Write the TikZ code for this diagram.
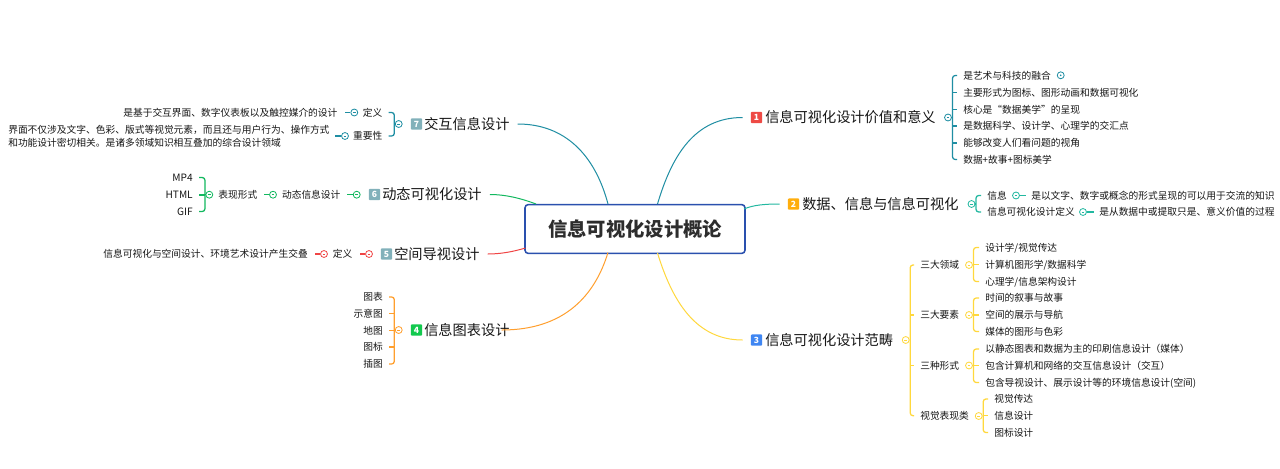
\documentclass[tikz,border=0pt]{standalone}
\usepackage{fontspec}
\setmainfont{Noto Sans CJK SC}
\definecolor{txt}{HTML}{161616}
\definecolor{cone}{HTML}{1F8EA3}
\definecolor{ctwo}{HTML}{22B8A0}
\definecolor{cthree}{HTML}{FFD83D}
\definecolor{cfour}{HTML}{FF9F2E}
\definecolor{cfive}{HTML}{F04545}
\definecolor{csix}{HTML}{12B85F}
\definecolor{cbox}{HTML}{2A50AE}
\definecolor{bone}{HTML}{EE4A45}
\definecolor{btwo}{HTML}{FFAE0D}
\definecolor{bthree}{HTML}{3F86F2}
\definecolor{bfour}{HTML}{12C94E}
\definecolor{bgrey}{HTML}{82B1BA}
\tikzset{
 leafbase/.style={inner sep=0pt,text=txt,font=\fontsize{7.3pt}{10pt}\selectfont,text height=6.4pt,text depth=0.9pt},
 lr/.style={leafbase,anchor=west},
 ll/.style={leafbase,anchor=east},
 topicbase/.style={inner sep=0pt,text=txt,font=\fontsize{10.65pt}{13pt}\selectfont,text height=9.3pt,text depth=1.3pt,anchor=west},
 badge/.style={inner sep=0pt,minimum size=8.6pt,rounded corners=0.9pt,fill=#1,text=white,font=\fontsize{6.4pt}{7pt}\selectfont\bfseries},
 mk/.style={circle,draw=#1,fill=white,line width=0.6pt,inner sep=0pt,minimum size=5.2pt,
   path picture={\draw[#1,line width=0.4pt] ([xshift=-1pt]path picture bounding box.center) -- ([xshift=1pt]path picture bounding box.center);}},
 mkdot/.style={circle,draw=#1,fill=white,line width=0.6pt,inner sep=0pt,minimum size=5.2pt,
   path picture={\fill[#1] (path picture bounding box.center) circle (0.7pt);}},
 conn/.style={line width=0.75pt,draw=#1},
 brace/.style={line width=0.95pt,draw=#1,rounded corners=2pt},
}
% bracket opening to the right of a fold marker
\newcommand{\brkR}[5]{% colour, fold, first, last, middles
  \coordinate (S#2) at ([xshift=3.4pt]#2.center);
  \draw[brace=#1] ([xshift=-4.5pt]#3.west) -| (S#2) |- ([xshift=-4.5pt]#4.west);
  \draw[brace=#1] (#2.east) -- (S#2);
  \foreach \m in {#5}{\draw[brace=#1] (S#2 |- \m.west) -- ([xshift=-4.5pt]\m.west);}
}
% bracket opening to the left
\newcommand{\brkL}[5]{%
  \coordinate (S#2) at ([xshift=-3.3pt]#2.center);
  \draw[brace=#1] ([xshift=4.5pt]#3.east) -| (S#2) |- ([xshift=4.5pt]#4.east);
  \draw[brace=#1] (#2.west) -- (S#2);
  \foreach \m in {#5}{\draw[brace=#1] (S#2 |- \m.east) -- ([xshift=4.5pt]\m.east);}
}
\begin{document}
\begin{tikzpicture}[x=0.75pt,y=-0.75pt]
\useasboundingbox (0,0) rectangle (1280,468);
\fill[white] (0,0) rectangle (1280,468);

% centre
\node[draw=cbox,line width=1.15pt,rounded corners=2.4pt,fill=white,minimum width=165pt,minimum height=36.6pt,inner sep=0pt,text=txt!90!white,font=\fontsize{14.5pt}{17pt}\selectfont\bfseries] (box) at (635,229) {信息可视化设计概论};
\coordinate (c1) at (657.5,204);
\coordinate (c2) at (744,209);
\coordinate (c3) at (657.5,253);
\coordinate (c4) at (608,252.5);
\coordinate (c5) at (525.5,248);
\coordinate (c6) at (536,204);
\coordinate (c7) at (608,204);

% topics
\node[badge=bone] (b1) at (756.5,117.5) {1};
\node[topicbase] (t1) at (765,117.5) {信息可视化设计价值和意义};
\node[badge=btwo] (b2) at (793.5,204) {2};
\node[topicbase] (t2) at (802,204) {数据、信息与信息可视化};
\node[badge=bthree] (b3) at (756.5,340) {3};
\node[topicbase] (t3) at (765,340) {信息可视化设计范畴};
\node[badge=bfour] (b4) at (416.5,330) {4};
\node[topicbase] (t4) at (424,330) {信息图表设计};
\node[badge=bgrey] (b5) at (386.5,254) {5};
\node[topicbase] (t5) at (394,254) {空间导视设计};
\node[badge=bgrey] (b6) at (374.5,194.5) {6};
\node[topicbase] (t6) at (382,194.5) {动态可视化设计};
\node[badge=bgrey] (b7) at (416.5,124) {7};
\node[topicbase] (t7) at (424,124) {交互信息设计};

% main connectors
\coordinate (e1) at ([xshift=-6pt]b1.west);
\coordinate (e2) at ([xshift=-6pt]b2.west);
\coordinate (e3) at ([xshift=-6pt]b3.west);
\coordinate (e4) at ([xshift=-6pt,yshift=0pt]t4.east);
\coordinate (e5) at ([xshift=6pt]t5.east);
\coordinate (e6) at ([xshift=6pt]t6.east);
\coordinate (e7) at ([xshift=6pt]t7.east);
\draw[conn=cone] (c1) .. controls (672,155) and (695,117.5) .. (e1);
\draw[conn=ctwo] (c2) .. controls (753,205) and (765,204) .. (e2);
\draw[conn=cthree] (c3) .. controls (672,300) and (695,340) .. (e3);
\draw[conn=cfour] (c4) .. controls (595,295) and (565,330) .. (e4);
\draw[conn=cfive] (c5) .. controls (512,252) and (500,254) .. (e5);
\draw[conn=csix] (c6) .. controls (520,198) and (505,194.5) .. (e6);
\draw[conn=cone] (c7) .. controls (595,155) and (565,124) .. (e7);

% topic 1
\node[mk=cone] (f1) at (948,117.5) {};
\node[lr] (a1) at (963,75.5) {是艺术与科技的融合};
\node[lr] (a2) at (963,92.5) {主要形式为图标、图形动画和数据可视化};
\node[lr] (a3) at (963,109.5) {核心是“数据美学”的呈现};
\node[lr] (a4) at (963,126) {是数据科学、设计学、心理学的交汇点};
\node[lr] (a5) at (963,143) {能够改变人们看问题的视角};
\node[lr] (a6) at (963,159.5) {数据+故事+图标美学};
\node[mkdot=cone] (a1m) at (1060.7,75.3) {};
\brkR{cone}{f1}{a1}{a6}{a2,a3,a4,a5}

% topic 2
\node[mk=ctwo] (f2) at (971.5,204) {};
\node[lr] (d1) at (987,195.5) {信息};
\node[lr] (d2) at (987,212) {信息可视化设计定义};
\brkR{ctwo}{f2}{d1}{d2}{}
\node[mk=ctwo] (d1m) at (1016,195.5) {};
\node[lr] (d1t) at (1031,195.5) {是以文字、数字或概念的形式呈现的可以用于交流的知识};
\draw[brace=ctwo] (d1m.east) -- ([xshift=-4pt]d1t.west);
\node[mk=ctwo] (d2m) at (1083,212) {};
\node[lr] (d2t) at (1099,212) {是从数据中或提取只是、意义价值的过程};
\draw[brace=ctwo] (d2m.east) -- ([xshift=-4pt]d2t.west);

% topic 3
\node[mk=cthree] (f3) at (905.7,340) {};
\node[lr] (g1) at (920,265) {三大领域};
\node[lr] (g2) at (920,315) {三大要素};
\node[lr] (g3) at (920,365.5) {三种形式};
\node[lr] (g4) at (920,415.7) {视觉表现类};
\brkR{cthree}{f3}{g1}{g4}{g2,g3}

\node[mk=cthree] (g1f) at (969,265) {};
\node[lr] (h1) at (985,247.5) {设计学/视觉传达};
\node[lr] (h2) at (985,264.5) {计算机图形学/数据科学};
\node[lr] (h3) at (985,281.5) {心理学/信息架构设计};
\brkR{cthree}{g1f}{h1}{h3}{h2}

\node[mk=cthree] (g2f) at (969,315) {};
\node[lr] (i1) at (985,298) {时间的叙事与故事};
\node[lr] (i2) at (985,315) {空间的展示与导航};
\node[lr] (i3) at (985,331.5) {媒体的图形与色彩};
\brkR{cthree}{g2f}{i1}{i3}{i2}

\node[mk=cthree] (g3f) at (969,365.5) {};
\node[lr] (j1) at (985,349) {以静态图表和数据为主的印刷信息设计（媒体）};
\node[lr] (j2) at (985,365.5) {包含计算机和网络的交互信息设计（交互）};
\node[lr] (j3) at (985,382.5) {包含导视设计、展示设计等的环境信息设计(空间)};
\brkR{cthree}{g3f}{j1}{j3}{j2}

\node[mk=cthree] (g4f) at (978.7,416) {};
\node[lr] (k1) at (994,399) {视觉传达};
\node[lr] (k2) at (994,415.7) {信息设计};
\node[lr] (k3) at (994,432.5) {图标设计};
\brkR{cthree}{g4f}{k1}{k3}{k2}

% topic 4
\node[mk=cfour] (f4) at (398.7,330) {};
\node[ll] (m1) at (383,297) {图表};
\node[ll] (m2) at (383,313.5) {示意图};
\node[ll] (m3) at (383,330.5) {地图};
\node[ll] (m4) at (383,347) {图标};
\node[ll] (m5) at (383,364) {插图};
\brkL{cfour}{f4}{m1}{m5}{m2,m3,m4}

% topic 5
\node[mk=cfive] (f5) at (369,254) {};
\node[ll] (n1) at (352.7,254) {定义};
\draw[brace=cfive] (f5.west) -- ([xshift=5.5pt]n1.east);
\node[mk=cfive] (n1m) at (324,254) {};
\node[ll] (n2) at (308,254) {信息可视化与空间设计、环境艺术设计产生交叠};
\draw[brace=cfive] (n1m.west) -- ([xshift=5.5pt]n2.east);

% topic 6
\node[mk=csix] (f6) at (356.7,194.7) {};
\node[ll] (p1) at (340.7,194.7) {动态信息设计};
\draw[brace=csix] (f6.west) -- ([xshift=4.5pt]p1.east);
\node[mk=csix] (p1m) at (273,194.7) {};
\node[ll] (p2) at (257.5,194.7) {表现形式};
\draw[brace=csix] (p1m.west) -- ([xshift=4.5pt]p2.east);
\node[mk=csix] (p2m) at (209.3,194.7) {};
\node[ll,font=\fontsize{7.6pt}{10pt}\selectfont] (q1) at (193,177.5) {MP4};
\node[ll,font=\fontsize{7.6pt}{10pt}\selectfont] (q2) at (193,195) {HTML};
\node[ll,font=\fontsize{7.6pt}{10pt}\selectfont] (q3) at (193,211.5) {GIF};
\brkL{csix}{p2m}{q1}{q3}{q2}

% topic 7
\node[mk=cone] (f7) at (398.7,124) {};
\node[ll] (r1) at (382.7,112.5) {定义};
\node[ll] (r2) at (382.7,136) {重要性};
\brkL{cone}{f7}{r1}{r2}{}
\node[mk=cone] (r1m) at (354.3,112.5) {};
\node[ll] (s1) at (337.7,112.5) {是基于交互界面、数字仪表板以及触控媒介的设计};
\draw[brace=cone] (r1m.west) -- ([xshift=5.5pt]s1.east);
\node[mk=cone] (r2m) at (345,136) {};
\node[inner sep=0pt,text=txt,anchor=west,align=left,font=\fontsize{7.3pt}{10pt}\selectfont] (s2) at (8,136) {界面不仅涉及文字、色彩、版式等视觉元素，而且还与用户行为、操作方式\\和功能设计密切相关。是诸多领域知识相互叠加的综合设计领域};
\coordinate (s2e) at (335,136);
\draw[brace=cone] (r2m.west) -- (s2e);
\end{tikzpicture}
\end{document}
